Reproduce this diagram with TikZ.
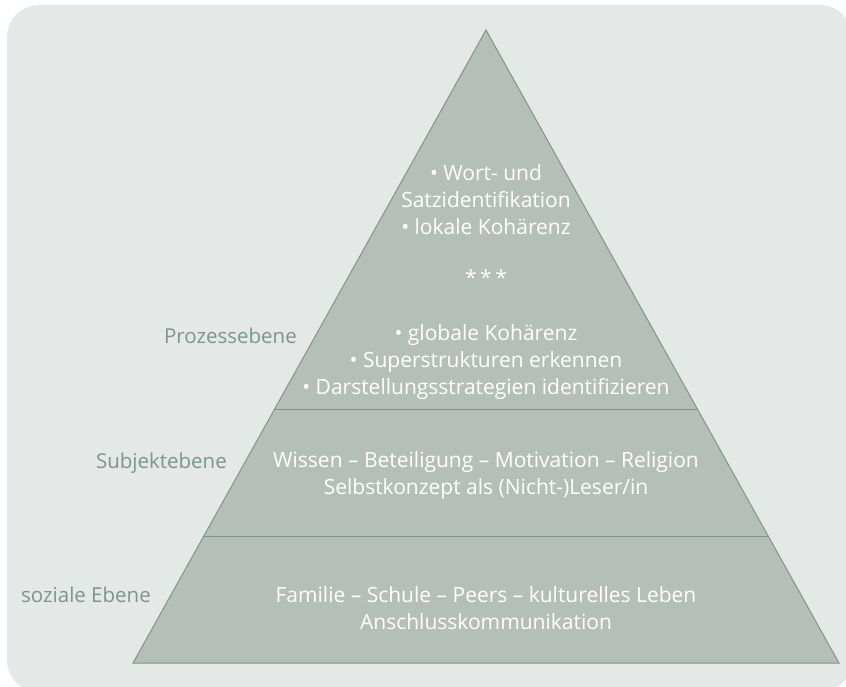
\documentclass[tikz,border=0pt]{standalone}
\usepackage{fontspec}
\setmainfont{Open Sans}
\usepackage{tikz}
\usetikzlibrary{positioning,calc}

\definecolor{bggray}{HTML}{E4E8E6}
\definecolor{pyrfill}{HTML}{B5BFB8}
\definecolor{pyrline}{HTML}{7D968C}

\tikzset{
  pyrtext/.style={text=white, align=center, font=\fontsize{21}{27}\selectfont, inner sep=0pt},
  leveltext/.style={text=pyrline, anchor=east, font=\fontsize{20.5}{27}\selectfont, inner sep=0pt}
}

\begin{document}
\begin{tikzpicture}[x=1pt, y=-1pt]
            \useasboundingbox (0,0) rectangle (846,686);
            %% Background
            \fill[bggray, rounded corners=32pt] (7,5) rectangle (852,692);

            %% Pyramid
            \coordinate (apex) at (486,30);
            \coordinate (bl) at (133,663);
            \coordinate (br) at (839,663);
            \filldraw[fill=pyrfill, draw=pyrline, line width=1pt] (apex) -- (bl) -- (br) -- cycle;

            % dividing lines between the levels
            \coordinate (l1) at ($(apex)!0.6003!(bl)$);
            \coordinate (r1) at ($(apex)!0.6003!(br)$);
            \coordinate (l2) at ($(apex)!0.7994!(bl)$);
            \coordinate (r2) at ($(apex)!0.7994!(br)$);
            \draw[pyrline, line width=1pt] (l1) -- (r1);
            \draw[pyrline, line width=1pt] (l2) -- (r2);

            %% Texts inside the pyramid
            % Prozessebene
            \node[pyrtext] (proc_top) at (486,200) {\textbullet\ Wort- und\\Satzidentifikation\\\textbullet\ lokale Kohärenz};
            \node[pyrtext] (stars) at (486,278) {*\,*\,*};
            \node[pyrtext] (proc_bot) at (486,362) {\textbullet\ globale Kohärenz\\\textbullet\ Superstrukturen erkennen\\\textbullet\ Darstellungsstrategien identifizieren};

            % Subjektebene
            \node[pyrtext] (subj) at (486,476) {Wissen – Beteiligung – Motivation – Religion\\Selbstkonzept als (Nicht-)Leser/in};

            % soziale Ebene
            \node[pyrtext] (soz) at (486,608) {Familie – Schule – Peers – kulturelles Leben\\Anschlusskommunikation};

            %% Level names
            \node[leveltext] (proc_lbl) at (297,336) {Prozessebene};
            \node[leveltext] (subj_lbl) at (227,463) {Subjektebene};
            \node[leveltext] (soz_lbl) at (151,595) {soziale Ebene};

        \end{tikzpicture}
\end{document}
